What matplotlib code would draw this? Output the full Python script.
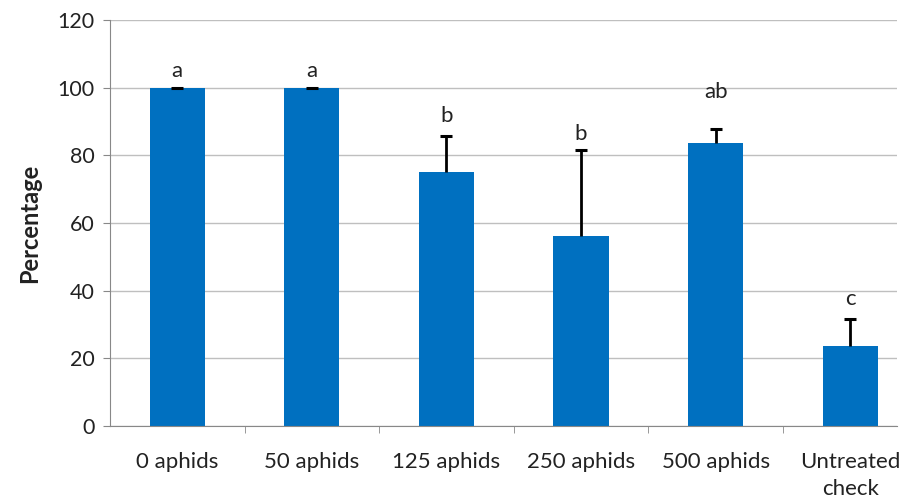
import matplotlib.pyplot as plt

categories = ['0 aphids', '50 aphids', '125 aphids', '250 aphids', '500 aphids', 'Untreated\ncheck']
means = [100, 100, 75, 56.3, 83.7, 23.7]
errors = [0, 0, 10.6, 25.3, 4.1, 8.0]
letters = ['a', 'a', 'b', 'b', 'ab', 'c']
letter_y = [103.1, 103.1, 89.9, 84.5, 97.0, 35.8]

BAR_COLOR = '#0070C0'
GRID_COLOR = '#BFBFBF'
AXIS_COLOR = '#888888'
TEXT_COLOR = '#222222'

plt.rcParams['font.family'] = ['Lato', 'DejaVu Sans']

fig = plt.figure(figsize=(9.07, 5.03), dpi=100)
ax = fig.add_axes([0.1213, 0.153, 0.868, 0.807])

x = list(range(len(categories)))
tops = [m + e for m, e in zip(means, errors)]
ax.bar(x, means, width=0.41, color=BAR_COLOR, zorder=2)
# upper error bars only, cap at the top
ax.vlines(x, means, tops, color='black', linewidth=2, zorder=3)
ax.plot(x, tops, linestyle='none', marker='_', markersize=8,
        markeredgewidth=2.2, color='black', zorder=3)

for xi, lab, ly in zip(x, letters, letter_y):
    ax.text(xi, ly, lab, ha='center', va='baseline', fontsize=16, color=TEXT_COLOR)

ax.set_ylim(0, 120)
ax.set_yticks(range(0, 121, 20))
ax.set_xlim(-0.5, 5.35)
ax.set_xticks(x)
ax.set_xticklabels(categories, fontsize=16, color=TEXT_COLOR, linespacing=1.4)
ax.tick_params(axis='x', length=0, pad=19)
ax.tick_params(axis='y', labelsize=15.5, colors=TEXT_COLOR, length=5, color=AXIS_COLOR, pad=6)
ax.set_xticks([i + 0.5 for i in range(5)], minor=True)
ax.tick_params(axis='x', which='minor', length=5, color=AXIS_COLOR)

ax.yaxis.grid(True, color=GRID_COLOR, linewidth=1, zorder=0)
ax.set_axisbelow(True)
for side in ['top', 'right']:
    ax.spines[side].set_visible(False)
ax.spines['left'].set_color(AXIS_COLOR)
ax.spines['bottom'].set_color(AXIS_COLOR)

ax.set_ylabel('Percentage', fontsize=17, fontweight='bold', labelpad=12, color=TEXT_COLOR)

fig.savefig('out.png', dpi=100)
